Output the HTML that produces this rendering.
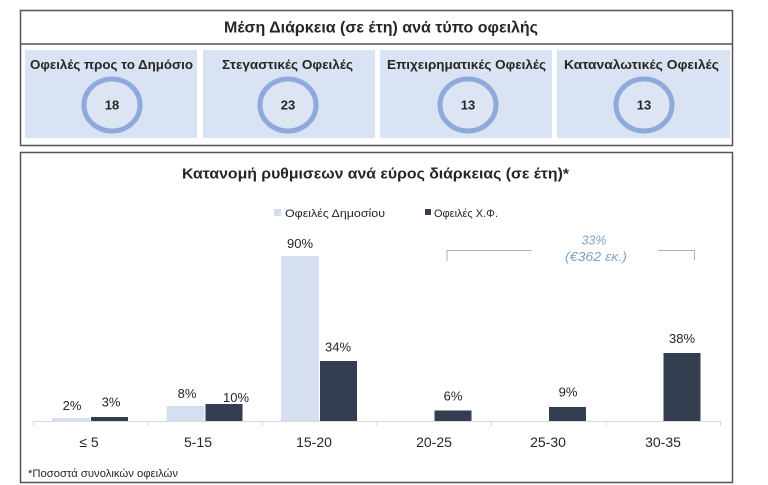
<!DOCTYPE html>
<html>
<head>
<meta charset="utf-8">
<style>
  html,body{margin:0;padding:0;background:#fff;}
  svg{display:block;}
  text{font-family:"Liberation Sans","DejaVu Sans",sans-serif;fill:#262626;}
</style>
</head>
<body>
<svg width="768" height="485" viewBox="0 0 768 485" xmlns="http://www.w3.org/2000/svg">
  <rect x="0" y="0" width="768" height="485" fill="#ffffff"/>

  <!-- Top box -->
  <rect x="20.5" y="10.5" width="712" height="135" fill="#fff" stroke="#555" stroke-width="1.5"/>
  <line x1="20.5" y1="44" x2="732.5" y2="44" stroke="#555" stroke-width="1.5"/>
  <text x="381" y="32.5" font-size="16" font-weight="bold" text-anchor="middle" textLength="314" lengthAdjust="spacingAndGlyphs">Μέση Διάρκεια (σε έτη) ανά τύπο οφειλής</text>

  <!-- Cards -->
  <rect x="25" y="50" width="172" height="88" fill="#dae3f3"/>
  <rect x="203" y="50" width="172" height="88" fill="#dae3f3"/>
  <rect x="380" y="50" width="172" height="88" fill="#dae3f3"/>
  <rect x="557" y="50" width="173" height="88" fill="#dae3f3"/>

  <text x="111.5" y="69" font-size="13" font-weight="bold" text-anchor="middle" textLength="163" lengthAdjust="spacingAndGlyphs">Οφειλές προς το Δημόσιο</text>
  <text x="287.5" y="69" font-size="13" font-weight="bold" text-anchor="middle" textLength="131" lengthAdjust="spacingAndGlyphs">Στεγαστικές Οφειλές</text>
  <text x="466.5" y="69" font-size="13" font-weight="bold" text-anchor="middle" textLength="159" lengthAdjust="spacingAndGlyphs">Επιχειρηματικές Οφειλές</text>
  <text x="641.5" y="69" font-size="13" font-weight="bold" text-anchor="middle" textLength="155" lengthAdjust="spacingAndGlyphs">Καταναλωτικές Οφειλές</text>

  <ellipse cx="112" cy="105" rx="28" ry="26" fill="#dde5f4" stroke="#8eaadb" stroke-width="5"/>
  <ellipse cx="288" cy="105" rx="28" ry="26" fill="#dde5f4" stroke="#8eaadb" stroke-width="5"/>
  <ellipse cx="468" cy="105" rx="28" ry="26" fill="#dde5f4" stroke="#8eaadb" stroke-width="5"/>
  <ellipse cx="644" cy="105" rx="28" ry="26" fill="#dde5f4" stroke="#8eaadb" stroke-width="5"/>

  <text x="112" y="109.5" font-size="13" font-weight="bold" text-anchor="middle">18</text>
  <text x="288" y="109.5" font-size="13" font-weight="bold" text-anchor="middle">23</text>
  <text x="468" y="109.5" font-size="13" font-weight="bold" text-anchor="middle">13</text>
  <text x="644" y="109.5" font-size="13" font-weight="bold" text-anchor="middle">13</text>

  <!-- Chart box -->
  <rect x="20.5" y="152.5" width="712" height="330" fill="#fff" stroke="#555" stroke-width="1.5"/>
  <text x="375.5" y="178.5" font-size="15" font-weight="bold" text-anchor="middle" textLength="387" lengthAdjust="spacingAndGlyphs">Κατανομή ρυθμισεων ανά εύρος διάρκειας (σε έτη)*</text>

  <!-- Legend -->
  <rect x="274" y="209" width="7" height="7" fill="#d6dff0"/>
  <text x="285" y="217" font-size="11" textLength="100" lengthAdjust="spacingAndGlyphs">Οφειλές Δημοσίου</text>
  <rect x="425" y="209" width="6" height="6" fill="#333f50"/>
  <text x="434" y="217" font-size="11" textLength="64" lengthAdjust="spacingAndGlyphs">Οφειλές Χ.Φ.</text>

  <!-- Annotation bracket -->
  <polyline points="447,261 447,250.5 532,250.5" fill="none" stroke="#9fb4c8" stroke-width="1"/>
  <polyline points="658,250.5 694.5,250.5 694.5,260" fill="none" stroke="#9fb4c8" stroke-width="1"/>
  <text x="594" y="244.5" font-size="12.5" font-style="italic" text-anchor="middle" style="fill:#7ea3c8">33%</text>
  <text x="596" y="261" font-size="12.5" font-style="italic" text-anchor="middle" textLength="62" lengthAdjust="spacingAndGlyphs" style="fill:#7ea3c8">(€362 εκ.)</text>

  <!-- Bars -->
  <g fill="#d6dff0">
    <rect x="52" y="418" width="38" height="3.5"/>
    <rect x="166.5" y="406" width="38" height="15.5"/>
    <rect x="281" y="256" width="38" height="165.5"/>
  </g>
  <g fill="#333f50">
    <rect x="91" y="417" width="37" height="4.5"/>
    <rect x="205.5" y="404" width="37" height="17.5"/>
    <rect x="320" y="361" width="37" height="60.5"/>
    <rect x="434.5" y="410.5" width="37" height="11"/>
    <rect x="549" y="407" width="37" height="14.5"/>
    <rect x="663.5" y="353" width="37" height="68.5"/>
  </g>

  <!-- Axis -->
  <line x1="33" y1="421.5" x2="721" y2="421.5" stroke="#d9d9d9" stroke-width="1"/>
  <g stroke="#d9d9d9" stroke-width="1">
    <line x1="33.5" y1="421.5" x2="33.5" y2="426"/>
    <line x1="148" y1="421.5" x2="148" y2="426"/>
    <line x1="262.5" y1="421.5" x2="262.5" y2="426"/>
    <line x1="377" y1="421.5" x2="377" y2="426"/>
    <line x1="491.5" y1="421.5" x2="491.5" y2="426"/>
    <line x1="606" y1="421.5" x2="606" y2="426"/>
    <line x1="720.5" y1="421.5" x2="720.5" y2="426"/>
  </g>

  <!-- Data labels -->
  <g font-size="13" text-anchor="middle">
    <text x="72" y="410">2%</text>
    <text x="111" y="406.5">3%</text>
    <text x="187" y="398">8%</text>
    <text x="236" y="402">10%</text>
    <text x="300" y="248">90%</text>
    <text x="338" y="351.5">34%</text>
    <text x="453" y="400.5">6%</text>
    <text x="568" y="396.5">9%</text>
    <text x="682" y="343">38%</text>
  </g>

  <!-- Category labels -->
  <g font-size="14" text-anchor="middle">
    <text x="89" y="447">≤ 5</text>
    <text x="198" y="447">5-15</text>
    <text x="314" y="447">15-20</text>
    <text x="434" y="447">20-25</text>
    <text x="548" y="447">25-30</text>
    <text x="663" y="447">30-35</text>
  </g>

  <!-- Footnote -->
  <text x="28" y="477" font-size="11" textLength="150" lengthAdjust="spacingAndGlyphs">*Ποσοστά συνολικών οφειλών</text>
</svg>
</body>
</html>
